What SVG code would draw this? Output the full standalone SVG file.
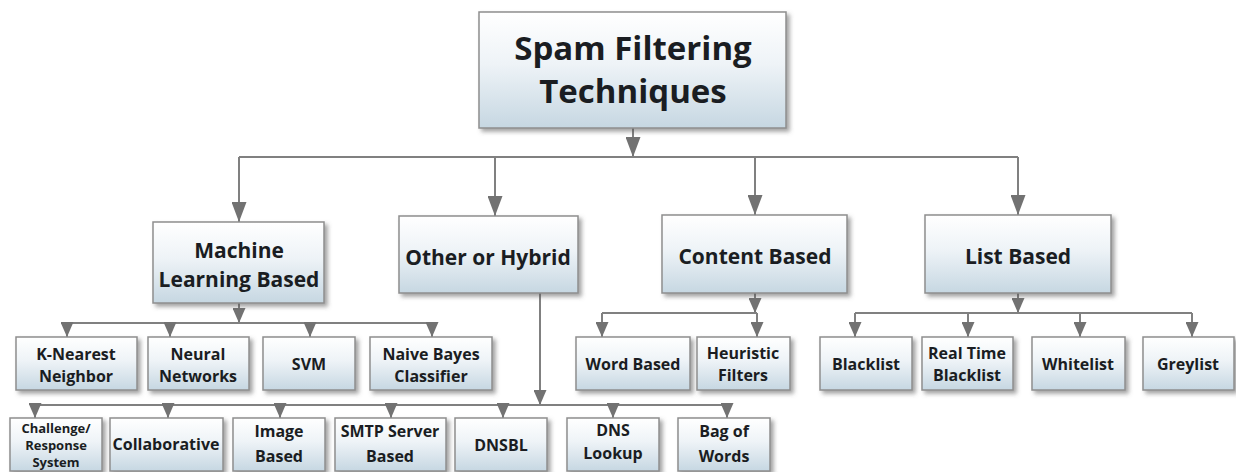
<svg xmlns="http://www.w3.org/2000/svg" width="1236" height="472" viewBox="0 0 1236 472">
<defs>
<linearGradient id="g" x1="0" y1="0" x2="0" y2="1">
<stop offset="0" stop-color="#ffffff"/>
<stop offset="0.45" stop-color="#eef3f7"/>
<stop offset="1" stop-color="#c6d7e2"/>
</linearGradient>
<filter id="sh" x="-10%" y="-10%" width="130%" height="140%">
<feDropShadow dx="3" dy="3" stdDeviation="2" flood-color="#555" flood-opacity="0.55"/>
</filter>
<marker id="a" viewBox="0 0 20 15" refX="20" refY="7.5" markerWidth="20" markerHeight="15" markerUnits="userSpaceOnUse" orient="auto">
<path d="M0,0 L20,7.5 L0,15 z" fill="#727272"/>
</marker>
<marker id="s" viewBox="0 0 15 13" refX="15" refY="6.5" markerWidth="15" markerHeight="13" markerUnits="userSpaceOnUse" orient="auto">
<path d="M0,0 L15,6.5 L0,13 z" fill="#727272"/>
</marker>
</defs>
<style>
.b{fill:url(#g);stroke:#8e8e8e;stroke-width:1.5;filter:url(#sh)}
text{font-family:"Open Sans","Liberation Sans",sans-serif;font-weight:bold;fill:#1a1d22;text-anchor:middle}
.t0{font-size:33px}
.t1{font-size:21px}
.t2{font-size:16px}
.t3{font-size:13px}
.c{fill:none;stroke:#808080;stroke-width:2}
</style>
<rect width="1236" height="472" fill="#ffffff"/>
<g id="connectors">
<path class="c" d="M633,128 V157" marker-end="url(#a)"/>
<path class="c" d="M239,157 H1018"/>
<path class="c" d="M239,157 V222" marker-end="url(#a)"/>
<path class="c" d="M495,157 V216" marker-end="url(#a)"/>
<path class="c" d="M755,157 V215" marker-end="url(#a)"/>
<path class="c" d="M1018,157 V215" marker-end="url(#a)"/>
<path class="c" d="M239,303 V323" marker-end="url(#s)"/>
<path class="c" d="M67,323 H432"/>
<path class="c" d="M67,323 V337" marker-end="url(#s)"/>
<path class="c" d="M170,323 V337" marker-end="url(#s)"/>
<path class="c" d="M310,323 V337" marker-end="url(#s)"/>
<path class="c" d="M432,323 V337" marker-end="url(#s)"/>
<path class="c" d="M755,293 V313" marker-end="url(#s)"/>
<path class="c" d="M602,313 H757"/>
<path class="c" d="M602,313 V337" marker-end="url(#s)"/>
<path class="c" d="M757,313 V337" marker-end="url(#s)"/>
<path class="c" d="M1018,293 V313" marker-end="url(#s)"/>
<path class="c" d="M855,313 H1192"/>
<path class="c" d="M855,313 V337" marker-end="url(#s)"/>
<path class="c" d="M968,313 V337" marker-end="url(#s)"/>
<path class="c" d="M1080,313 V337" marker-end="url(#s)"/>
<path class="c" d="M1192,313 V337" marker-end="url(#s)"/>
<path class="c" d="M540,293 V405" marker-end="url(#s)"/>
<path class="c" d="M35,405 H727"/>
<path class="c" d="M35,405 V418" marker-end="url(#s)"/>
<path class="c" d="M168,405 V418" marker-end="url(#s)"/>
<path class="c" d="M280,405 V418" marker-end="url(#s)"/>
<path class="c" d="M391,405 V418" marker-end="url(#s)"/>
<path class="c" d="M503,405 V418" marker-end="url(#s)"/>
<path class="c" d="M613,405 V418" marker-end="url(#s)"/>
<path class="c" d="M727,405 V418" marker-end="url(#s)"/>
</g>
<g id="root"><rect class="b" x="479" y="12" width="307" height="116"/><text class="t0" x="633" y="60">Spam Filtering</text><text class="t0" x="633" y="103">Techniques</text></g>
<g id="ml"><rect class="b" x="153" y="222" width="171" height="81"/><text class="t1" x="239" y="258">Machine</text><text class="t1" x="239" y="287">Learning Based</text></g>
<g id="other"><rect class="b" x="399" y="216" width="179" height="77"/><text class="t1" x="488" y="265">Other or Hybrid</text></g>
<g id="content"><rect class="b" x="662" y="215" width="185" height="78"/><text class="t1" x="755" y="264">Content Based</text></g>
<g id="list"><rect class="b" x="925" y="215" width="186" height="78"/><text class="t1" x="1018" y="264">List Based</text></g>
<g id="knn"><rect class="b" x="16" y="337" width="121" height="53"/><text class="t2" x="76" y="360">K-Nearest</text><text class="t2" x="76" y="382">Neighbor</text></g>
<g id="nn"><rect class="b" x="148" y="337" width="101" height="53"/><text class="t2" x="198" y="360">Neural</text><text class="t2" x="198" y="382">Networks</text></g>
<g id="svm"><rect class="b" x="263" y="337" width="92" height="53"/><text class="t2" x="309" y="370">SVM</text></g>
<g id="nb"><rect class="b" x="370" y="337" width="122" height="53"/><text class="t2" x="431" y="360">Naive Bayes</text><text class="t2" x="431" y="382">Classifier</text></g>
<g id="word"><rect class="b" x="576" y="337" width="114" height="53"/><text class="t2" x="633" y="370">Word Based</text></g>
<g id="heur"><rect class="b" x="697" y="337" width="93" height="53"/><text class="t2" x="743" y="359">Heuristic</text><text class="t2" x="743" y="381">Filters</text></g>
<g id="black"><rect class="b" x="820" y="337" width="92" height="53"/><text class="t2" x="866" y="370">Blacklist</text></g>
<g id="rtbl"><rect class="b" x="922" y="337" width="91" height="53"/><text class="t2" x="967" y="359">Real Time</text><text class="t2" x="967" y="381">Blacklist</text></g>
<g id="white"><rect class="b" x="1032" y="337" width="93" height="53"/><text class="t2" x="1078" y="370">Whitelist</text></g>
<g id="grey"><rect class="b" x="1143" y="337" width="91" height="53"/><text class="t2" x="1188" y="370">Greylist</text></g>
<g id="chal"><rect class="b" x="10" y="418" width="92" height="53"/><text class="t3" x="56" y="433">Challenge/</text><text class="t3" x="56" y="450">Response</text><text class="t3" x="56" y="467">System</text></g>
<g id="collab"><rect class="b" x="110" y="418" width="113" height="53"/><text class="t2" x="166" y="450">Collaborative</text></g>
<g id="image"><rect class="b" x="233" y="418" width="92" height="53"/><text class="t2" x="279" y="437">Image</text><text class="t2" x="279" y="462">Based</text></g>
<g id="smtp"><rect class="b" x="335" y="418" width="111" height="53"/><text class="t2" x="390" y="437">SMTP Server</text><text class="t2" x="390" y="462">Based</text></g>
<g id="dnsbl"><rect class="b" x="455" y="418" width="92" height="53"/><text class="t2" x="501" y="451">DNSBL</text></g>
<g id="dnsl"><rect class="b" x="567" y="418" width="92" height="53"/><text class="t2" x="613" y="436">DNS</text><text class="t2" x="613" y="459">Lookup</text></g>
<g id="bow"><rect class="b" x="678" y="418" width="92" height="53"/><text class="t2" x="724" y="437">Bag of</text><text class="t2" x="724" y="462">Words</text></g>
</svg>
